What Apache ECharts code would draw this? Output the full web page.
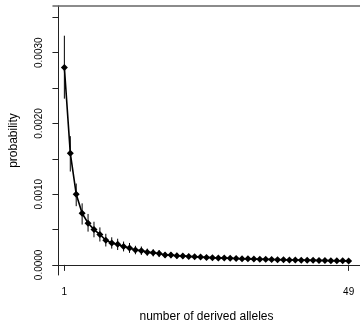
<!DOCTYPE html>
<html>
<head>
<meta charset="utf-8">
<script src="https://cdn.jsdelivr.net/npm/echarts@6/dist/echarts.min.js"></script>
<style>
  html, body { margin: 0; padding: 0; background: #fff; }
  #chart { width: 360px; height: 328px; }
</style>
</head>
<body>
<div id="chart"></div>
<script>
const alleleCounts = [1, 2, 3, 4, 5, 6, 7, 8, 9, 10, 11, 12, 13, 14, 15, 16, 17, 18, 19, 20,
  21, 22, 23, 24, 25, 26, 27, 28, 29, 30, 31, 32, 33, 34, 35, 36, 37, 38, 39, 40,
  41, 42, 43, 44, 45, 46, 47, 48, 49]

const probability = [0.00279, 0.00158, 0.00100, 0.00073, 0.00059, 0.00050, 0.00043, 0.00035, 0.00031, 0.00029,
  0.00026, 0.00024, 0.00021, 0.00020, 0.00018, 0.00017, 0.00016, 0.00014, 0.000138, 0.000130,
  0.000125, 0.000120, 0.000115, 0.000110, 0.000106, 0.000102, 0.000099, 0.000096, 0.000093, 0.000090,
  0.000087, 0.000085, 0.000082, 0.000080, 0.000078, 0.000076, 0.000074, 0.000072, 0.000070, 0.000069,
  0.000067, 0.000065, 0.000064, 0.000062, 0.000061, 0.000060, 0.000058, 0.000057, 0.000056]

const lowerBound = [0.00235, 0.00132, 0.00083, 0.00057, 0.00047, 0.00039, 0.00033, 0.00026, 0.00023, 0.00021,
  0.00019, 0.00017, 0.00015, 0.00014, 0.00013, 0.00012, 0.00011, 0.00010, 0.000095, 0.000090,
  0.000088, 0.000085, 0.000082, 0.000078, 0.000075, 0.000072, 0.000070, 0.000068, 0.000066, 0.000064,
  0.000062, 0.000060, 0.000058, 0.000057, 0.000055, 0.000054, 0.000052, 0.000051, 0.000049, 0.000048,
  0.000047, 0.000045, 0.000044, 0.000043, 0.000042, 0.000041, 0.000040, 0.000039, 0.000038]

const upperBound = [0.00324, 0.00182, 0.00115, 0.00087, 0.00072, 0.00061, 0.00053, 0.00044, 0.00039, 0.00037,
  0.00033, 0.00031, 0.00027, 0.00026, 0.00023, 0.00022, 0.00021, 0.00018, 0.000180, 0.000170,
  0.000162, 0.000155, 0.000148, 0.000142, 0.000137, 0.000132, 0.000128, 0.000124, 0.000120, 0.000116,
  0.000112, 0.000110, 0.000106, 0.000103, 0.000101, 0.000098, 0.000096, 0.000093, 0.000091, 0.000090,
  0.000087, 0.000085, 0.000084, 0.000081, 0.000080, 0.000079, 0.000076, 0.000075, 0.000074]

const yTicks = [0, 0.0005, 0.001, 0.0015, 0.002, 0.0025, 0.003, 0.0035]
const yTickLabels = [0, 0.001, 0.002, 0.003]
const xTicks = [1, 49]

const font = 'Liberation Sans, Arial, sans-serif'
const chart = echarts.init(document.getElementById('chart'))

chart.setOption({
  animation: false,
  grid: { left: 51, right: -2, top: 6, bottom: 43 },
  xAxis: [
    {
      type: 'value',
      min: -0.92,
      max: 50.92,
      name: 'number of derived alleles',
      nameLocation: 'middle',
      nameGap: 36,
      nameTextStyle: { fontFamily: font, fontSize: 12, color: '#000' },
      axisLine: { show: true, lineStyle: { color: '#222', width: 1 } },
      axisTick: { show: true, length: 6, customValues: xTicks, lineStyle: { color: '#222' } },
      axisLabel: {
        customValues: xTicks,
        fontFamily: font,
        fontSize: 10,
        color: '#000',
        margin: 12,
        formatter: (v) => String(v),
      },
      splitLine: { show: false },
    },
    {
      type: 'value',
      position: 'top',
      min: -0.92,
      max: 50.92,
      axisLine: { show: true, lineStyle: { color: '#666', width: 1.5 } },
      axisTick: { show: false },
      axisLabel: { show: false },
      splitLine: { show: false },
    },
  ],
  yAxis: {
    type: 'value',
    min: -0.000143,
    max: 0.00366,
    name: 'probability',
    nameLocation: 'middle',
    nameRotate: 90,
    nameGap: 33,
    nameTextStyle: { fontFamily: font, fontSize: 12, color: '#000' },
    axisLine: { show: true, lineStyle: { color: '#222', width: 1 } },
    axisTick: { show: true, length: 6, customValues: yTicks, lineStyle: { color: '#222' } },
    axisLabel: {
      customValues: yTickLabels,
      rotate: 90,
      fontFamily: font,
      fontSize: 10,
      color: '#000',
      margin: 9,
      formatter: (v) => v.toFixed(4),
    },
    splitLine: { show: false },
  },
  series: [
    {
      type: 'custom',
      renderItem: (params, api) => {
        const low = api.coord([api.value(0), api.value(1)])
        const high = api.coord([api.value(0), api.value(2)])
        return {
          type: 'line',
          shape: { x1: low[0], y1: low[1], x2: high[0], y2: high[1] },
          style: { stroke: '#000', lineWidth: 1 },
        }
      },
      data: alleleCounts.map((n, i) => [n, lowerBound[i], upperBound[i]]),
      z: 1,
    },
    {
      type: 'line',
      data: alleleCounts.map((n, i) => [n, probability[i]]),
      symbol: 'diamond',
      symbolSize: 7,
      lineStyle: { color: '#000', width: 1.6 },
      itemStyle: { color: '#000' },
      z: 2,
    },
  ],
})
</script>
</body>
</html>
